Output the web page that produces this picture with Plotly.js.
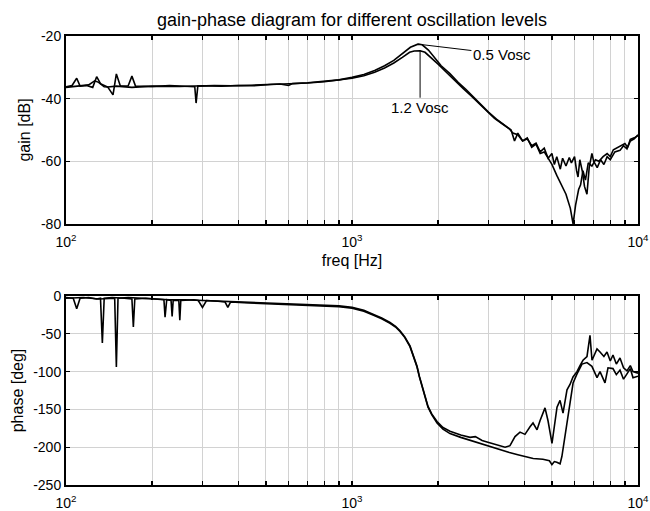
<!DOCTYPE html>
<html>
<head>
<meta charset="utf-8">
<script src="https://cdn.plot.ly/plotly-3.0.1.min.js"></script>
<style>html,body{margin:0;padding:0;background:#fff;}#chart{width:650px;height:511px;}</style>
</head>
<body>
<div id="chart"></div>
<script>
// ---------- data ----------
const seriesNames = ["0.5 Vosc", "1.2 Vosc"];

const fGain05 = [100,105,109,112,118,124,128,132,140,146,150,155,165,170,175,200,230,260,282,285,289,330,380,440,500,560,600,620,700,800,900,1000,1100,1200,1300,1400,1500,1600,1700,1760,1850,1950,2050,2200,2350,2500,2650,2800,3000,3200,3400,3600,3700,3800,3950,4100,4250,4400,4550,4700,4850,5000,5200,5400,5600,5800,5930,6050,6120,6200,6300,6420,6550,6700,6900,7100,7300,7550,7800,8000,8200,8600,9000,9200,9400,9700,10000];
const gain05  = [-36.2,-35.8,-33.5,-36.0,-35.8,-36.4,-33.0,-35.2,-36.3,-38.8,-32.1,-36.0,-35.9,-32.8,-36.0,-36.1,-35.8,-35.9,-36.2,-41.4,-36.0,-35.8,-35.9,-35.7,-35.6,-35.3,-35.8,-35.2,-34.9,-34.5,-34.0,-33.2,-32.3,-31.0,-29.5,-27.8,-25.6,-23.6,-22.6,-22.8,-24.5,-27.0,-29.5,-32.0,-34.8,-37.0,-39.3,-41.5,-44.3,-46.5,-48.3,-50.0,-53.5,-51.0,-53.5,-52.5,-55.5,-54.5,-57.5,-57.0,-59.0,-61.0,-64.5,-67.5,-70.5,-75.0,-80.0,-74.0,-71.5,-69.0,-67.5,-63.0,-66.0,-60.5,-61.5,-59.5,-60.0,-58.5,-57.5,-58.5,-56.3,-55.2,-54.3,-55.5,-53.0,-52.5,-51.8];

const fGain12 = [100,110,120,126,130,136,140,150,170,200,250,300,350,400,450,520,600,700,800,900,1000,1100,1200,1300,1400,1500,1590,1650,1730,1800,1900,2000,2150,2300,2450,2600,2750,2950,3150,3350,3550,3650,3800,3950,4100,4250,4400,4550,4700,4850,5000,5100,5200,5350,5450,5600,5750,5850,6000,6100,6170,6260,6400,6500,6630,6750,6900,7000,7200,7400,7600,7800,8000,8300,8650,8900,9150,9400,9700,10000];
const gain12  = [-36.4,-36.0,-35.6,-34.3,-34.8,-36.2,-36.3,-36.0,-36.4,-36.0,-36.1,-35.9,-36.0,-35.8,-35.9,-35.5,-35.3,-35.0,-34.6,-34.1,-33.5,-32.7,-31.6,-30.2,-28.6,-26.8,-25.2,-24.8,-24.7,-25.2,-27.0,-29.0,-31.8,-34.5,-36.8,-39.0,-41.2,-44.0,-46.3,-48.0,-49.6,-51.0,-51.5,-53.5,-52.8,-55.0,-54.2,-57.0,-55.8,-59.0,-57.5,-61.0,-58.5,-62.5,-59.0,-61.5,-58.8,-60.5,-58.5,-63.0,-65.0,-59.5,-63.5,-68.0,-70.5,-62.0,-57.5,-60.0,-62.0,-59.5,-61.0,-58.5,-59.5,-57.0,-56.5,-55.0,-56.0,-53.5,-52.8,-51.5];

const fPhase05 = [100,106,109,112,120,128,132,134,136,145,160,170,172,174,190,210,220,222,225,233,235,237,248,250,252,280,290,300,310,340,360,368,376,420,500,600,700,800,900,1000,1100,1184,1270,1358,1420,1472,1530,1595,1640,1688,1720,1757,1800,1844,1900,1983,2080,2201,2400,2586,2800,2965,3292,3550,3800,4100,4300,4650,4900,5000,5100,5200,5340,5420,5550,5650,5780,5930,6120,6370,6630,6900,7190,7365,7667,7854,8176,8400,8650,8900,9151,9400,9605,10000];
const phase05  = [-2,-3,-17,-3,-2,-4,-3,-62,-3,-2,-3,-4,-41,-4,-3,-4,-5,-28,-5,-6,-27,-6,-6,-32,-6,-5,-6,-15,-6,-7,-8,-15,-8,-9,-10,-11,-12,-13,-14,-16,-20,-25,-30,-36,-41,-47,-55,-67,-79,-94,-107,-120,-134,-147,-157,-168,-176,-182,-187,-191,-195,-198,-204,-207,-210,-213,-215,-216,-218,-223,-219,-220,-222,-212,-187,-165,-139,-115,-103,-90,-88,-93,-108,-100,-115,-95,-96,-104,-98,-110,-103,-96,-108,-106];

const fPhase12 = [100,115,130,148,150,152,165,180,200,230,260,300,368,400,500,600,700,800,900,1000,1100,1184,1270,1358,1420,1472,1530,1595,1640,1688,1720,1757,1800,1844,1900,1983,2080,2201,2400,2586,2700,2850,2965,3150,3292,3430,3568,3715,3868,4026,4192,4295,4436,4543,4730,4846,5004,5085,5210,5338,5468,5646,5784,5926,6118,6269,6422,6632,6794,6905,7189,7365,7600,7791,8000,8176,8400,8650,8900,9151,9400,9605,10000];
const phase12  = [-3,-2,-4,-3,-94,-3,-2,-3,-4,-5,-5,-6,-7,-8,-9,-10,-11,-12,-13,-15,-19,-24,-29,-35,-40,-46,-54,-66,-78,-93,-106,-119,-133,-146,-156,-166,-174,-179,-184,-187,-186,-191,-193,-196,-199,-200,-198,-186,-180,-183,-173,-168,-177,-165,-148,-165,-195,-175,-147,-138,-155,-124,-117,-107,-100,-92,-85,-80,-52,-85,-70,-74,-80,-74,-86,-78,-90,-82,-95,-99,-92,-100,-102];

const xTickVals = [100,200,300,400,500,600,700,800,900,1000,2000,3000,4000,5000,6000,7000,8000,9000,10000];
const xTickText = ["10<sup>2</sup>","","","","","","","","","10<sup>3</sup>","","","","","","","","","10<sup>4</sup>"];
const gainTicks = [-80,-60,-40,-20];
const gainTickText = ["-80","-60","-40","-20"];
const phaseTicks = [-250,-200,-150,-100,-50,0];
const phaseTickText = ["-250","-200","-150","-100","-50","0"];

const titleText = "gain-phase diagram for different oscillation levels";
const xTitle = "freq [Hz]";
const yTitleGain = "gain [dB]";
const yTitlePhase = "phase [deg]";

// ---------- figure ----------
const lineStyle = {color: "#000", width: 1.6};
const traces = [
  {x: fGain05, y: gain05, xaxis: "x", yaxis: "y", mode: "lines", line: lineStyle, name: seriesNames[0]},
  {x: fGain12, y: gain12, xaxis: "x", yaxis: "y", mode: "lines", line: lineStyle, name: seriesNames[1]},
  {x: fPhase05, y: phase05, xaxis: "x2", yaxis: "y2", mode: "lines", line: lineStyle, name: seriesNames[0]},
  {x: fPhase12, y: phase12, xaxis: "x2", yaxis: "y2", mode: "lines", line: lineStyle, name: seriesNames[1]}
];

function peakIndex(arr){ let k=0; arr.forEach((v,i)=>{ if(v>arr[k]) k=i; }); return k; }
const p05 = peakIndex(gain05), p12 = peakIndex(gain12);

const fam = "Liberation Sans, Arial, sans-serif";
const font = {family: fam, size: 14, color: "#000"};
const xBase = {
  type: "log", range: [2, 4], tickmode: "array", tickvals: xTickVals, ticktext: xTickText,
  ticks: "inside", ticklen: 4, tickwidth: 1.2, tickcolor: "#000", ticklabelstandoff: 4,
  showgrid: true, gridcolor: "#d2d2d2", gridwidth: 1,
  showline: true, linecolor: "#000", linewidth: 2, mirror: "ticks",
  zeroline: false, tickfont: font
};
const yBase = {
  ticks: "inside", ticklen: 4, tickwidth: 1.2, tickcolor: "#000",
  showgrid: true, gridcolor: "#d2d2d2", gridwidth: 1,
  showline: true, linecolor: "#000", linewidth: 2, mirror: "ticks",
  zeroline: false, tickfont: font, tickmode: "array"
};

const layout = {
  width: 650, height: 511,
  margin: {l: 66, r: 12, t: 36, b: 26},
  paper_bgcolor: "#fff", plot_bgcolor: "#fff",
  showlegend: false, font: font,
  title: {text: titleText, font: {family: fam, size: 18, color: "#000"}, x: 0.5415, xanchor: "center", y: 0.962, yanchor: "middle", yref: "container"},
  xaxis: Object.assign({}, xBase, {anchor: "y", domain: [0, 1], title: {text: xTitle, font: {family: fam, size: 16}, standoff: 6}}),
  yaxis: Object.assign({}, yBase, {anchor: "x", domain: [0.5813, 1], range: [-80, -20], tickvals: gainTicks, ticktext: gainTickText, title: {text: yTitleGain, font: {family: fam, size: 16}, standoff: 6}}),
  xaxis2: Object.assign({}, xBase, {anchor: "y2", domain: [0, 1]}),
  yaxis2: Object.assign({}, yBase, {anchor: "x2", domain: [0, 0.4209], range: [-250, 0], tickvals: phaseTicks, ticktext: phaseTickText, title: {text: yTitlePhase, font: {family: fam, size: 16}, standoff: 6}}),
  annotations: [
    {xref: "x", yref: "y", x: Math.log10(fGain05[p05]), y: gain05[p05], text: seriesNames[0], showarrow: true, arrowhead: 0, arrowwidth: 1, arrowcolor: "#000", ax: 84, ay: 10, xanchor: "center", yanchor: "middle", font: {family: fam, size: 15, color: "#000"}},
    {xref: "x", yref: "y", x: Math.log10(fGain12[p12]), y: gain12[p12], text: seriesNames[1], showarrow: true, arrowhead: 0, arrowwidth: 1, arrowcolor: "#000", ax: 0, ay: 57, xanchor: "center", yanchor: "middle", font: {family: fam, size: 15, color: "#000"}}
  ]
};

Plotly.newPlot("chart", traces, layout, {displayModeBar: false, staticPlot: true});
</script>
</body>
</html>
